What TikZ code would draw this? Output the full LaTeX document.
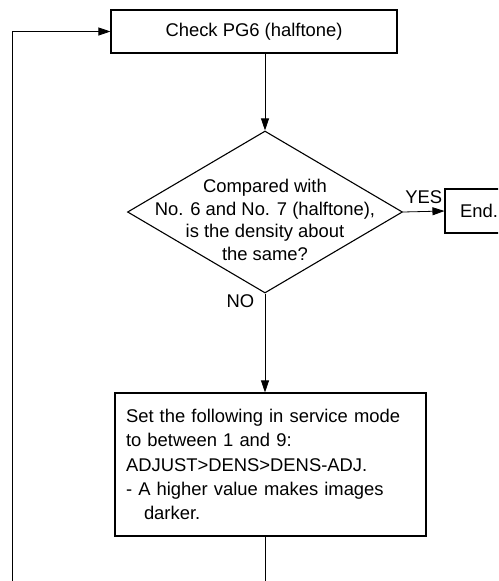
\documentclass[tikz,border=0pt]{standalone}
\usepackage{fontspec}
\setmainfont{Liberation Sans}
\usetikzlibrary{shapes.geometric,arrows.meta}

\begin{document}
\begin{tikzpicture}[x=1pt,y=-1pt,
    font=\fontsize{18.4}{24.2}\selectfont,
    stepbox/.style={draw,line width=1.1pt,inner sep=0pt},
    decision/.style={draw,shape=diamond,line width=1.1pt,inner sep=0pt,minimum width=275,minimum height=162},
    flow/.style={line width=0.8pt,-{Triangle[length=12pt,width=8pt]}},
    link/.style={line width=0.8pt}]
    \clip (0,0) rectangle (498,581);
    \node[stepbox,minimum width=286,minimum height=43] (check) at (254,31.5) {Check PG6 (halftone)};
    \node[decision,label={[align=center,font=\fontsize{18.4}{22.4}\selectfont,yshift=-8pt]center:{Compared with\\No. 6 and No. 7 (halftone),\\is the density about\\the same?}}] (same) at (265,212) {};
    \node[stepbox,minimum width=68,minimum height=44] (end) at (479,211) {End.};
    \node[stepbox,minimum width=311,minimum height=143,text width=289,align=left] (adjust) at (270.5,464.5)
        {Set the following in service mode\\to between 1 and 9:\\ADJUST>DENS>DENS-ADJ.\\- A higher value makes images\\\hspace*{18pt}darker.};
    \coordinate (out) at (265,581);
    \coordinate (back) at (12,581);
    \draw[flow] (check.south -| same.north) -- (same.north);
    \draw[flow] (same.east) -- node[above=4pt] {YES} (end.west);
    \draw[flow] (same.south) -- node[below left,pos=0,xshift=-7pt,yshift=3pt] {NO} (adjust.north -| same.south);
    \draw[link] (adjust.south -| same.south) -- (out);
    \draw[flow] (back) |- (check.west);
\end{tikzpicture}
\end{document}
